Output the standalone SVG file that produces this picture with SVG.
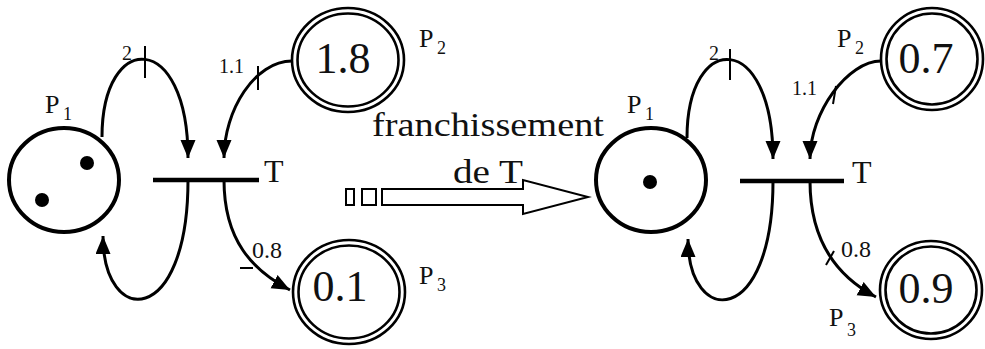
<svg xmlns="http://www.w3.org/2000/svg" width="985" height="349" viewBox="0 0 985 349">
<style>
.place{fill:none;stroke:#000;stroke-width:4}
.dbl{fill:none;stroke:#000;stroke-width:2.6}
.bar{stroke:#000;stroke-width:4.5}
.arc{fill:none;stroke:#000;stroke-width:3}
.tick{stroke:#000;stroke-width:2}
.tok{fill:#000}
</style>
<defs>
<marker id="ah" markerUnits="userSpaceOnUse" markerWidth="20" markerHeight="16" refX="18" refY="7.5" orient="auto">
<path d="M0,0 L18,7.5 L0,15 z" fill="#000"/>
</marker>
</defs>
<rect width="985" height="349" fill="#fff"/>

<g id="connectors">
<path class="arc" d="M102,137 C102,30 188,30 188,158" marker-end="url(#ah)"/>
<path class="arc" d="M188,180 C188,328 103,328 103,236" marker-end="url(#ah)"/>
<path class="arc" d="M292,61 C255,61 224,110 224,158" marker-end="url(#ah)"/>
<path class="arc" d="M224,180 C224,240 252,270 290,290" marker-end="url(#ah)"/>
<line class="tick" x1="145" y1="46" x2="145" y2="78"/>
<line class="tick" x1="258" y1="66" x2="258" y2="90"/>
<line class="tick" x1="240" y1="268" x2="253" y2="268"/>
<path class="arc" d="M687,138 C687,30 773,30 773,159" marker-end="url(#ah)"/>
<path class="arc" d="M773,181 C773,328 688,328 688,239" marker-end="url(#ah)"/>
<path class="arc" d="M881,61 C848,61 810,112 810,159" marker-end="url(#ah)"/>
<path class="arc" d="M810,181 C810,245 840,278 876,297" marker-end="url(#ah)"/>
<line class="tick" x1="730" y1="49" x2="730" y2="80"/>
<line class="tick" x1="836" y1="86" x2="833" y2="104"/>
<line class="tick" x1="826" y1="265" x2="834" y2="251"/>
</g>

<g font-family="Liberation Serif, Times New Roman, Tinos, Noto Serif, DejaVu Serif, serif" fill="#111">
<g id="left-P1">
<ellipse class="place" cx="64" cy="180" rx="55" ry="52"/>
<circle class="tok" cx="87" cy="163" r="7"/>
<circle class="tok" cx="42" cy="200" r="7"/>
<text font-size="26" x="45" y="113">P</text><text font-size="18" x="63" y="120">1</text>
</g>
<g id="left-T">
<line class="bar" x1="153" y1="180" x2="259" y2="180"/>
<text font-size="32" x="264" y="182">T</text>
<text font-size="20" x="122" y="60">2</text>
<text font-size="20" x="219" y="73">1.1</text>
<text font-size="24" x="252" y="258">0.8</text>
</g>
<g id="left-P2">
<ellipse class="dbl" cx="348" cy="60" rx="56" ry="52"/>
<ellipse class="dbl" cx="348" cy="60" rx="50.5" ry="46.5"/>
<text font-size="44" text-anchor="middle" x="343" y="73">1.8</text>
<text font-size="26" x="419" y="47">P</text><text font-size="18" x="437" y="54">2</text>
</g>
<g id="left-P3">
<ellipse class="dbl" cx="349" cy="292" rx="56" ry="52"/>
<ellipse class="dbl" cx="349" cy="292" rx="50.5" ry="46.5"/>
<text font-size="44" text-anchor="middle" x="340" y="301">0.1</text>
<text font-size="26" x="419" y="284">P</text><text font-size="18" x="437" y="291">3</text>
</g>

<g id="firing">
<rect x="346" y="189" width="8" height="16" fill="#fff" stroke="#000" stroke-width="2"/>
<rect x="362" y="189" width="14" height="16" fill="#fff" stroke="#000" stroke-width="2"/>
<polygon points="382,189 523,189 523,180 588,197 523,214 523,205 382,205" fill="#fff" stroke="#000" stroke-width="2"/>
<text font-size="33" x="372" y="136" textLength="232" lengthAdjust="spacingAndGlyphs">franchissement</text>
<text font-size="33" x="453" y="183" textLength="70" lengthAdjust="spacingAndGlyphs">de T</text>
</g>

<g id="right-P1">
<ellipse class="place" cx="651" cy="180" rx="55" ry="52"/>
<circle class="tok" cx="650" cy="182" r="7"/>
<text font-size="26" x="627" y="113">P</text><text font-size="18" x="645" y="120">1</text>
</g>
<g id="right-T">
<line class="bar" x1="740" y1="181" x2="844" y2="181"/>
<text font-size="32" x="852" y="183">T</text>
<text font-size="20" x="709" y="60">2</text>
<text font-size="20" x="792" y="95">1.1</text>
<text font-size="24" x="841" y="257">0.8</text>
</g>
<g id="right-P2">
<ellipse class="dbl" cx="932" cy="59" rx="51" ry="51"/>
<ellipse class="dbl" cx="932" cy="59" rx="45.5" ry="45.5"/>
<text font-size="44" text-anchor="middle" x="926" y="73">0.7</text>
<text font-size="26" x="837" y="47">P</text><text font-size="18" x="855" y="54">2</text>
</g>
<g id="right-P3">
<ellipse class="dbl" cx="931" cy="290" rx="51" ry="49"/>
<ellipse class="dbl" cx="931" cy="290" rx="45.5" ry="43.5"/>
<text font-size="44" text-anchor="middle" x="926" y="303">0.9</text>
<text font-size="26" x="829" y="326">P</text><text font-size="18" x="847" y="336">3</text>
</g>
</g>
</svg>
